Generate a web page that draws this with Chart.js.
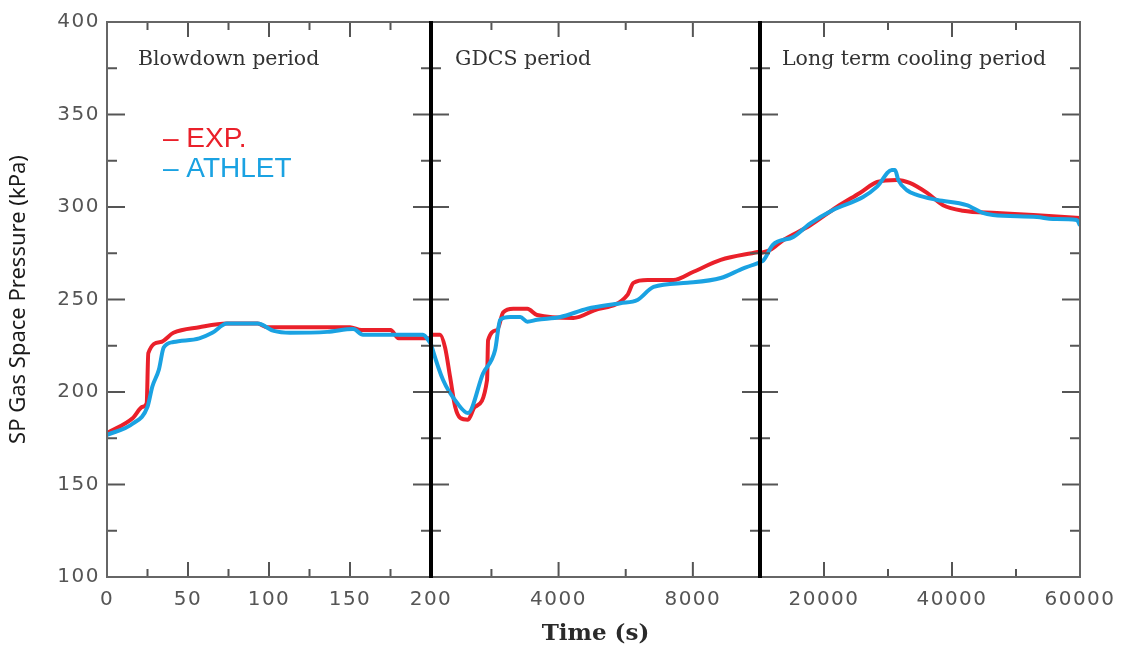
<!DOCTYPE html>
<html>
<head>
<meta charset="utf-8">
<script src="https://cdn.jsdelivr.net/npm/chart.js@4.4.1/dist/chart.umd.min.js"></script>
<style>
  html, body { margin: 0; background: #fff; }
  #wrap { width: 1126px; height: 648px; }
</style>
</head>
<body>
<div id="wrap"><canvas id="chart"></canvas></div>
<script>
// series names
const seriesNames = ['EXP.', 'ATHLET'];
const periodNames = ['Blowdown period', 'GDCS period', 'Long term cooling period'];

// Blowdown period, 0-200 s
const blowTimeExp = [0, 16, 22, 24.5, 25.5, 33, 41, 57, 74, 93, 99, 150, 157, 175, 180, 200];
const blowExp = [177.8, 186, 192, 194, 221, 227, 232, 235, 237, 237, 235, 235, 233.5, 233.5, 229, 229];
const blowTimeAth = [0, 16, 25, 28, 32, 35, 41, 57, 65, 74, 93, 103, 113, 136, 152, 158, 195, 200];
const blowAth = [176.8, 183, 192, 203, 212, 224, 227, 229, 232, 237, 237, 233, 232, 232.5, 234, 231, 231, 226];

// GDCS period, 200-10000 s
const gdcsTimeExp = [200, 470, 620, 770, 920, 1070, 1300, 1510, 1870, 1900, 2170, 2350, 2650, 3070, 3360, 4440, 5040, 6050, 6230, 6650, 7420, 8020, 8830, 9930, 10000];
const gdcsExp = [231, 231, 224, 208, 192, 186, 185, 192, 206.5, 228, 233.5, 243, 245, 245, 241.6, 240, 244, 252.4, 259, 260.5, 260.5, 265, 271.4, 275.7, 276];
const gdcsTimeAth = [200, 230, 560, 980, 1300, 1750, 2110, 2260, 2560, 2860, 3070, 3360, 4050, 4860, 5840, 6350, 6830, 7840, 8830, 9520, 10000];
const gdcsAth = [226, 224, 206.5, 194, 188.6, 210, 222.7, 239, 240.5, 240.5, 238, 239, 240.5, 245, 248, 249.7, 256.8, 259, 261.6, 267, 270];

// Long term cooling period, 10000-60000 s
const ltcTimeExp = [10000, 11560, 13600, 17800, 22000, 25600, 28300, 31400, 33400, 36100, 38600, 41700, 47000, 52700, 60000];
const ltcExp = [275, 276.8, 282, 290, 300, 307.6, 313.5, 314.6, 313, 307.6, 301, 298, 296.8, 295.7, 294];
const ltcTimeAth = [10000, 10500, 12000, 15200, 17800, 21400, 26100, 28300, 30600, 31100, 31600, 33000, 34500, 37700, 42300, 44800, 46400, 53300, 55800, 59500, 60000];
const ltcAth = [270.3, 271, 279.5, 283.8, 291, 298.4, 305.4, 311, 320, 320, 314.6, 309, 306.5, 303.8, 301, 296.8, 295.7, 294.6, 293.5, 293, 290];

// axis ticks
const x1Ticks = [0, 25, 50, 75, 100, 125, 150, 175, 200];
const x1Labels = [0, 50, 100, 150, 200];
const x2Ticks = [200, 2000, 4000, 6000, 8000, 10000];
const x2Labels = [4000, 8000];
const x3Ticks = [10000, 20000, 30000, 40000, 50000, 60000];
const x3Labels = [20000, 40000, 60000];
const yTicks = [100, 125, 150, 175, 200, 225, 250, 275, 300, 325, 350, 375, 400];
const yLabels = [100, 150, 200, 250, 300, 350, 400];

const RED = 'rgb(234, 32, 42)';
const BLUE = 'rgb(26, 162, 226)';

const pts = (t, v) => t.map((x, i) => ({x: x, y: v[i]}));

const line = (label, color, axis, t, v) => ({
    label: label,
    data: pts(t, v),
    xAxisID: axis,
    yAxisID: 'y',
    borderColor: color,
    borderWidth: 4,
    pointRadius: 0,
    cubicInterpolationMode: 'monotone',
    fill: false
});

const tickFont = {family: 'DejaVu Sans', size: 20};

const xAxis = (min, max, ticks, labels, weight, title) => ({
    type: 'linear',
    position: 'bottom',
    stack: 'time',
    stackWeight: weight,
    min: min,
    max: max,
    grid: {display: false, drawTicks: false},
    border: {display: false},
    afterBuildTicks: s => { s.ticks = ticks.map(v => ({value: v})); },
    afterFit: s => { s.height = 71; },
    ticks: {
        z: 1,
        autoSkip: false,
        maxRotation: 0,
        padding: 11,
        color: '#555',
        font: tickFont,
        callback: v => labels.includes(v) ? String(v) : ''
    },
    title: {
        display: !!title,
        text: title || '',
        color: '#2a2a2a',
        font: {family: 'DejaVu Serif', size: 23, weight: 'bold'},
        padding: {top: 0, bottom: 0}
    }
});

// frame, inward tick marks, separators, period labels, legend
const decor = {
    id: 'decor',
    afterDatasetsDraw(chart) {
        chart.ctx.letterSpacing = '1.5px';
    },
    afterDraw(chart) {
        const {ctx, chartArea: a, scales} = chart;
        ctx.letterSpacing = '0px';
        ctx.save();
        const seg = (x0, y0, x1, y1) => { ctx.beginPath(); ctx.moveTo(x0, y0); ctx.lineTo(x1, y1); ctx.stroke(); };
        ctx.strokeStyle = '#555';
        ctx.lineWidth = 2;
        [['x1', x1Labels], ['x2', x2Labels], ['x3', x3Labels]].forEach(([id, labels]) => {
            const s = scales[id];
            s.ticks.forEach(t => {
                if (t.value === s.min || t.value === s.max) return;
                const x = s.getPixelForValue(t.value);
                const len = labels.includes(t.value) ? 15 : 8;
                seg(x, a.bottom, x, a.bottom - len);
                seg(x, a.top, x, a.top + len);
            });
        });
        const seps = [scales.x1.getPixelForValue(200), scales.x2.getPixelForValue(10000)];
        const ys = scales.y;
        ys.ticks.forEach(t => {
            if (t.value === ys.min || t.value === ys.max) return;
            const y = ys.getPixelForValue(t.value);
            const len = yLabels.includes(t.value) ? 18 : 10;
            seg(a.left, y, a.left + len, y);
            seg(a.right, y, a.right - len, y);
            seps.forEach(sx => seg(sx - len, y, sx + len, y));
        });
        ctx.strokeStyle = '#666';
        ctx.strokeRect(a.left, a.top, a.width, a.height);
        ctx.strokeStyle = '#000';
        ctx.lineWidth = 4;
        seps.forEach(sx => seg(sx, a.top - 1, sx, a.bottom + 1));

        ctx.fillStyle = '#333';
        ctx.font = '20.5px "DejaVu Serif"';
        ctx.textAlign = 'left';
        ctx.textBaseline = 'alphabetic';
        ctx.fillText(periodNames[0], scales.x1.left + 31, a.top + 43);
        ctx.fillText(periodNames[1], scales.x2.left + 24, a.top + 43);
        ctx.fillText(periodNames[2], scales.x3.left + 22, a.top + 43);

        ctx.font = '28px "Liberation Sans"';
        ctx.fillStyle = RED;
        ctx.fillText('\u2013 ' + seriesNames[0], a.left + 56, a.top + 125);
        ctx.fillStyle = BLUE;
        ctx.fillText('\u2013 ' + seriesNames[1], a.left + 56, a.top + 155);
        ctx.restore();
    }
};

new Chart(document.getElementById('chart'), {
    type: 'line',
    data: {
        // ATHLET first so it is drawn on top of EXP.
        datasets: [
            line(seriesNames[1], BLUE, 'x1', blowTimeAth, blowAth),
            line(seriesNames[1], BLUE, 'x2', gdcsTimeAth, gdcsAth),
            line(seriesNames[1], BLUE, 'x3', ltcTimeAth, ltcAth),
            line(seriesNames[0], RED, 'x1', blowTimeExp, blowExp),
            line(seriesNames[0], RED, 'x2', gdcsTimeExp, gdcsExp),
            line(seriesNames[0], RED, 'x3', ltcTimeExp, ltcExp)
        ]
    },
    options: {
        responsive: true,
        maintainAspectRatio: false,
        animation: false,
        devicePixelRatio: 1,
        layout: {padding: {top: 22, right: 46, bottom: 0, left: 0}},
        plugins: {legend: {display: false}, tooltip: {enabled: false}},
        scales: {
            x1: xAxis(0, 200, x1Ticks, x1Labels, 324, null),
            x2: xAxis(200, 10000, x2Ticks, x2Labels, 329, 'Time (s)'),
            x3: xAxis(10000, 60000, x3Ticks, x3Labels, 320, null),
            y: {
                type: 'linear',
                position: 'left',
                min: 100,
                max: 400,
                grid: {display: false, drawTicks: false},
                border: {display: false},
                afterBuildTicks: s => { s.ticks = yTicks.map(v => ({value: v})); },
                afterFit: s => { s.width = 107; },
                ticks: {
                    z: 1,
                    padding: 7,
                    color: '#555',
                    font: tickFont,
                    callback: v => yLabels.includes(v) ? String(v) : ''
                },
                title: {
                    display: true,
                    text: 'SP Gas Space Pressure (kPa)',
                    color: '#1a1a1a',
                    font: {family: 'Noto Sans', size: 22},
                    padding: {top: 6, bottom: 0}
                }
            }
        }
    },
    plugins: [decor]
});
</script>
</body>
</html>
